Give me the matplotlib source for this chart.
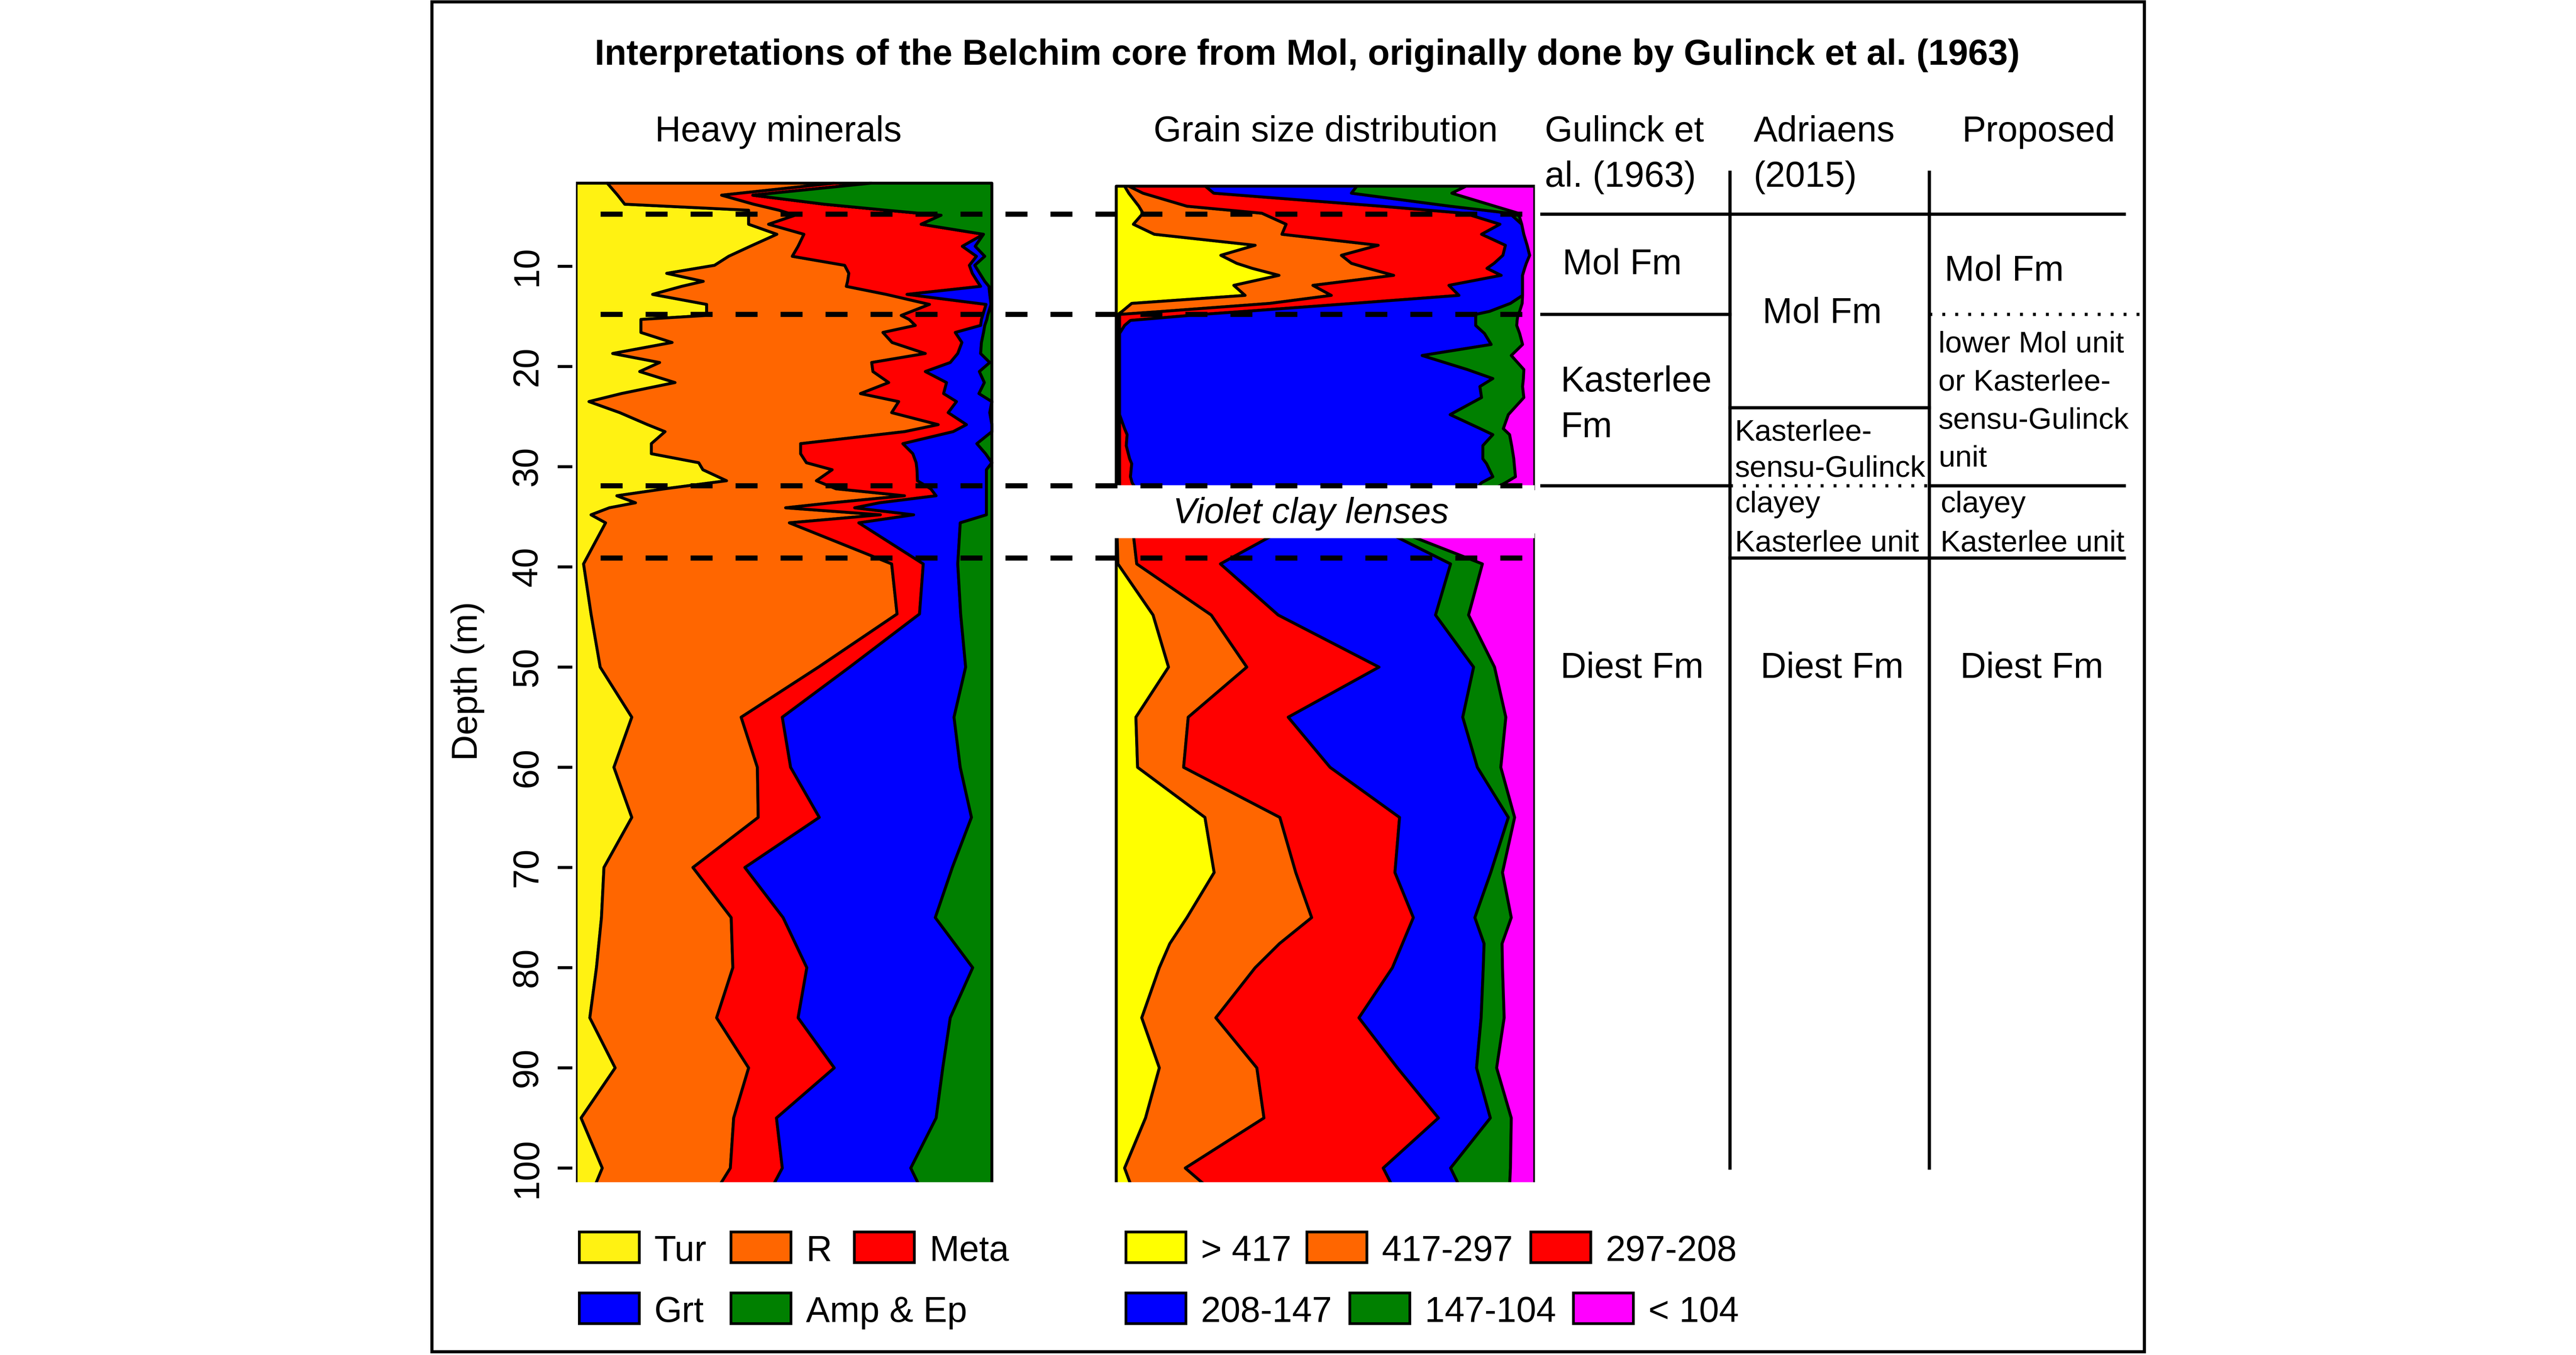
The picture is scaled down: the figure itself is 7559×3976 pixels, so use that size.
import matplotlib
matplotlib.use('Agg')
import matplotlib.pyplot as plt
from matplotlib.patches import Rectangle
import numpy as np

plt.rcParams['font.family'] = ['Liberation Sans', 'DejaVu Sans']

# ---------------- data ----------------
# heavy minerals, cumulative % from the left (Tur, +R, +Meta, +Grt; rest = Amp & Ep)
hm_depth = [1.7, 2.9, 3.8, 4.4, 4.9, 5.8, 6.8, 8.0, 9.0, 9.9, 10.7, 11.5, 12.0, 12.8, 13.8,
            14.9, 15.3, 15.9, 16.6, 17.6, 18.7, 19.6, 20.5, 21.6, 22.7, 23.5, 24.6, 25.8, 26.5,
            27.7, 28.7, 29.6, 30.3, 31.4, 32.2, 32.9, 33.6, 34.1, 34.8, 35.6, 39.7, 44.7, 50,
            55, 60, 65, 70, 75, 80, 85, 90, 95, 100, 101.8]
hm_cum_tur = [7.5, 10, 11.7, 41.5, 41.5, 41.5, 48.3, 41.9, 36.7, 33.3, 21.8, 30.6, 25.4, 18.4,
              31.4, 31.4, 15.6, 15.6, 15.6, 23.1, 8.8, 20.1, 15.3, 23.8, 10.9, 3.1, 10.5, 17.2,
              21.4, 18.1, 18.1, 29.5, 30.5, 36.2, 21.4, 9.8, 14.3, 8, 3.6, 7.1, 1.8, 3.6, 5.8,
              13.4, 9.1, 13.4, 6.7, 6.1, 4.9, 3.3, 9.4, 1.2, 6.3, 4.5]
hm_cum_r = [62, 35, 42.7, 48.8, 52.7, 46.3, 54.8, 53.4, 52.0, 64.6, 65.6, 65.3, 65.0, 74.6,
            85.0, 78.2, 80.1, 81.6, 73.8, 76.0, 84.0, 71.1, 71.4, 75.2, 68.4, 77.6, 75.9, 87.1,
            79, 54, 54, 55.4, 61.6, 57.8, 62.5, 79, 61.6, 50.4, 73.2, 51.3, 75.9, 77.2, 58.3,
            39.7, 43.6, 43.8, 28.1, 37.3, 37.7, 33.8, 41.5, 37.9, 37.1, 34.4]
hm_cum_meta = [71, 42.5, 59.7, 74.7, 87.8, 83, 98, 92.9, 96.3, 94.6, 95.3, 96.5, 97.3, 79.6,
               98.6, 97.8, 97.5, 97.3, 91.2, 92.8, 91.8, 90.0, 84.0, 89.1, 88.4, 91.5, 89.5,
               93.9, 90.7, 78.6, 81, 81.8, 82, 82.1, 85.3, 86.6, 73, 67, 81.2, 68, 83.5, 82.6,
               65.8, 49.6, 51.6, 58.5, 40.6, 49.8, 55.5, 53.4, 62.1, 48.2, 49.6, 47.3]
hm_cum_grt = [71, 42.5, 59.7, 74.7, 87.8, 83, 98, 96, 98.3, 95.9, 97.1, 98.3, 99.3, 99.5,
              99.8, 99.0, 98.8, 98.3, 98, 97.5, 97.3, 99.5, 97.0, 98.2, 96.9, 100, 99.5, 100,
              100, 96.4, 98.5, 100, 98.7, 98.7, 98.7, 98.7, 98.7, 98.7, 98.7, 92.4, 91.8, 92.5,
              93.7, 90.9, 92.4, 95.1, 90.5, 86.4, 95.4, 90.0, 88.2, 86.6, 80.5, 82.6]
hm_labels = ['Tur', 'R', 'Meta', 'Grt', 'Amp & Ep']
hm_colors = ['#FFF212', '#FF6600', '#FF0000', '#0000FF', '#008000']

# grain size, cumulative % from coarse (>417) to fine; rest = <104
gs_up_depth = [2.0, 2.7, 4.0, 4.7, 5.8, 6.8, 7.9, 8.9, 9.7, 10.2, 10.9, 11.9, 12.9, 13.7, 14.5,
               14.8, 15.4, 15.9, 16.7, 17.8, 18.9, 20.3, 21.2, 22.0, 23.1, 24.8, 26.2, 26.8,
               27.9, 29.2, 29.7, 31.0, 31.6, 32.2]
gs_up_417 = [2, 3, 5.4, 6.4, 4.1, 9.1, 33.2, 25.0, 28.8, 32.5, 38.9, 28.1, 30.8, 3.7, 1.4] + [0.4] * 19
gs_up_297 = [3, 6.4, 16.9, 34.8, 40.6, 39.6, 62.6, 53.8, 56.2, 60.2, 66.3, 47.0, 51.4, 36.7, 11] + [0.8] * 19
gs_up_208 = [21.3, 23.3, 63.3, 83.2, 91.7, 87.3, 93.0, 92.4, 90.3, 88.6, 92.0, 79.5, 81.9, 56.6,
             30.6, 20.4, 3.4, 2.0, 0.8, 0.8, 0.8, 0.8, 0.8, 0.8, 0.8, 0.8, 2.0, 2.6, 2.4, 3.2,
             3.7, 3.4, 3.8, 4.7]
gs_up_147 = [57.5, 56.2, 79.8, 94.0, 96.9, 97.4, 98.2, 98.8, 98.0, 97.6, 97.1, 97.1, 97.1, 94.2,
             89.2, 85.9, 85.9, 85.9, 88, 89.6, 73.1, 83.9, 90, 86.9, 87.3, 79.8, 87, 90, 87.6,
             87.6, 88.5, 90, 87.3, 86]
gs_up_104 = [83.6, 80.2, 90.5, 96.1, 96.9, 97.4, 98.2, 98.8, 98.0, 97.6, 97.1, 97.1, 97.1, 97.0,
             96.4, 96.0, 95.8, 95.7, 96.4, 97.1, 94.4, 97.4, 97.3, 97.1, 97.4, 93.7, 92.5, 94.0,
             94.5, 95.0, 95.1, 95.4, 93, 90.3]

gs_lo_depth = [36.8, 39.7, 44.8, 50, 55, 60, 65, 70.5, 75, 77.6, 80, 85, 90, 95, 100, 101.8]
gs_lo_417 = [0.2, 0.4, 8.8, 12.5, 4.7, 5.1, 21.2, 23.4, 16.9, 12.8, 10.3, 6.1, 10.3, 7.0, 2.0, 3.6]
gs_lo_297 = [4.1, 4.9, 22.7, 31.2, 17.2, 16.1, 39.1, 42.9, 46.7, 39, 33.2, 23.8, 33.6, 35.3, 16.5, 21.5]
gs_lo_208 = [37.6, 24.9, 38.7, 62.8, 41.1, 51.1, 67.7, 66.6, 71.0, 68.4, 66.0, 58.0, 67.2, 77.0, 63.8, 66]
gs_lo_147 = [66.0, 79.9, 76.3, 85.4, 82.8, 86.3, 93.7, 89.5, 85.7, 87.9, 87.7, 87.2, 86.1, 89.4, 79.9, 82]
gs_lo_104 = [69.7, 87.5, 84.2, 90.4, 93.1, 91.9, 95.2, 92.3, 94.4, 92.2, 92.3, 92.7, 90.9, 94.4, 94.2, 94.0]
gs_labels = ['> 417', '417-297', '297-208', '208-147', '147-104', '< 104']
gs_colors = ['#FFFF00', '#FF6600', '#FF0000', '#0000FF', '#008000', '#FF00FF']

# formation boundaries (m)
marker_depths = [4.8, 14.8, 31.9, 39.1]
gulinck_lines = [4.8, 14.8, 31.9]
adriaens_lines = [4.8, 24.1, 39.1]
adriaens_dotted = [31.9]
proposed_lines = [4.8, 31.9, 39.1]
proposed_dotted = [14.8]
clay_gap = (32.0, 37.0)

# ---------------- layout ----------------
W, H, DPI = 7559, 3976, 600
Y0, PPM = 487, 29.4          # pixel row of depth 0, pixels per metre
D_TOP, D_BOT = 1.45, 101.4
FS, FS_S = 12.6, 10.6
LW_POLY = 1.02

fig = plt.figure(figsize=(W / DPI, H / DPI), dpi=DPI)


def panel(x0, x1):
    top = Y0 + PPM * D_TOP
    bot = Y0 + PPM * D_BOT
    return [x0 / W, 1 - bot / H, (x1 - x0) / W, (bot - top) / H]


def stack_fill(ax, depth, cums, colors):
    n = len(depth)
    edges = [np.zeros(n)] + [np.asarray(c) for c in cums] + [np.full(n, 100.0)]
    for lo, hi, col in zip(edges[:-1], edges[1:], colors):
        ax.fill_betweenx(depth, lo, hi, facecolor=col, edgecolor='black',
                         linewidth=LW_POLY)


# heavy minerals
ax_hm = fig.add_axes(panel(1690, 1690 + 12.2 * 100.3))
ax_hm.set_xlim(0, 100.3)
ax_hm.set_ylim(D_BOT, D_TOP)
stack_fill(ax_hm, hm_depth, [hm_cum_tur, hm_cum_r, hm_cum_meta, hm_cum_grt], hm_colors)
for s in ax_hm.spines.values():
    s.set_visible(False)
ax_hm.spines['left'].set_position(('outward', 1.3))
ax_hm.set_xticks([])
ax_hm.set_yticks(range(10, 101, 10))
ax_hm.tick_params(axis='y', direction='out', length=5.2, width=1.05, pad=4.6,
                  labelsize=FS, labelrotation=90)
for lab in ax_hm.get_yticklabels():
    lab.set_va('center')

# grain size
ax_gs = fig.add_axes(panel(3275 - 0.35 * 12.28, 4503))
ax_gs.set_xlim(-0.35, 100)
ax_gs.set_ylim(D_BOT, D_TOP)
stack_fill(ax_gs, gs_up_depth, [gs_up_417, gs_up_297, gs_up_208, gs_up_147, gs_up_104], gs_colors)
stack_fill(ax_gs, gs_lo_depth, [gs_lo_417, gs_lo_297, gs_lo_208, gs_lo_147, gs_lo_104], gs_colors)
ax_gs.axhspan(clay_gap[0], clay_gap[1], color='white', zorder=5)
for s in ax_gs.spines.values():
    s.set_visible(False)
ax_gs.set_xticks([])
ax_gs.set_yticks([])

# overlay in depth units (x in pixels) for markers and the table
tb = fig.add_axes([0, 0, 1, 1], facecolor='none')
tb.set_xlim(0, W)
tb.set_ylim((H - Y0) / PPM, -Y0 / PPM)
tb.axis('off')

for d in marker_depths:
    tb.plot([1762, 4495], [d, d], color='black', lw=1.8, ls=(0, (4.3, 4.5)),
            solid_capstyle='butt', dash_capstyle='butt')

COLS = [4524, 5076, 5661, 6233]
LW_T = 1.14
for d in gulinck_lines:
    tb.plot([COLS[0], COLS[1]], [d, d], color='black', lw=LW_T)
for d in adriaens_lines:
    tb.plot([COLS[1], COLS[2]], [d, d], color='black', lw=LW_T)
for d in adriaens_dotted:
    tb.plot([COLS[1], COLS[2]], [d, d], color='black', lw=LW_T, ls=(0, (0.9, 3.1)))
for d in proposed_lines:
    tb.plot([COLS[2], COLS[3]], [d, d], color='black', lw=LW_T)
for d in proposed_dotted:
    tb.plot([COLS[2], 6285], [d, d], color='black', lw=LW_T, ls=(0, (0.9, 3.1)))
for x in COLS[1:3]:
    tb.plot([x, x], [0.6, 100], color='black', lw=LW_T)


def block(x, d0, text, size, step, ha='left', **kw):
    for i, line in enumerate(text.split('\n')):
        tb.text(x, d0 + i * step, line, fontsize=size, ha=ha, va='baseline', **kw)


block(4585, 10.82, 'Mol Fm', FS, 0)
block(4579, 22.52, 'Kasterlee\nFm', FS, 4.55)
block(4789, 51.09, 'Diest Fm', FS, 0, ha='center')
block(5172, 15.68, 'Mol Fm', FS, 0)
block(5091, 27.41, 'Kasterlee-\nsensu-Gulinck', FS_S, 3.6)
block(5091, 34.56, 'clayey\nKasterlee unit', FS_S, 3.9)
block(5376, 51.09, 'Diest Fm', FS, 0, ha='center')
block(5706, 11.46, 'Mol Fm', FS, 0)
block(5688, 18.61, 'lower Mol unit\nor Kasterlee-\nsensu-Gulinck\nunit', FS_S, 3.8)
block(5694, 34.56, 'clayey\nKasterlee unit', FS_S, 3.9)
block(5962, 51.09, 'Diest Fm', FS, 0, ha='center')
block(3847, 35.65, 'Violet clay lenses', FS, 0, ha='center', style='italic')

# overlay in pixels for title, headers, legend and frame
ov = fig.add_axes([0, 0, 1, 1], facecolor='none')
ov.set_xlim(0, W)
ov.set_ylim(H, 0)
ov.axis('off')

ov.add_patch(Rectangle((1267, 5), 6292 - 1267, 3966 - 5, fill=False, lw=1.1,
                       edgecolor='black', clip_on=False))
ov.text(3836, 190, 'Interpretations of the Belchim core from Mol, originally done by Gulinck et al. (1963)',
        fontsize=FS, fontweight='bold', ha='center', va='baseline')
ov.text(2284, 415, 'Heavy minerals', fontsize=FS, ha='center', va='baseline')
ov.text(3890, 415, 'Grain size distribution', fontsize=FS, ha='center', va='baseline')
ov.text(4533, 415, 'Gulinck et', fontsize=FS, ha='left', va='baseline')
ov.text(4533, 548, 'al. (1963)', fontsize=FS, ha='left', va='baseline')
ov.text(5146, 415, 'Adriaens', fontsize=FS, ha='left', va='baseline')
ov.text(5146, 548, '(2015)', fontsize=FS, ha='left', va='baseline')
ov.text(5757, 415, 'Proposed', fontsize=FS, ha='left', va='baseline')
ov.text(1373, Y0 + PPM * (D_TOP + D_BOT) / 2, 'Depth (m)', fontsize=FS, rotation=90,
        ha='center', va='center')

# legends
ROWS = [3660, 3839]
BW, BH = 176, 90


def legend_item(x, y, col, label):
    ov.add_patch(Rectangle((x, y - BH / 2), BW, BH, facecolor=col, edgecolor='black', lw=0.96))
    ov.text(x + BW + 44, y + 40, label, fontsize=FS, ha='left', va='baseline')


hm_pos = [(1700, 0), (2145, 0), (2507, 0), (1700, 1), (2145, 1)]
for (x, r), col, lab in zip(hm_pos, hm_colors, hm_labels):
    legend_item(x, ROWS[r], col, lab)
gs_pos = [(3304, 0), (3835, 0), (4492, 0), (3304, 1), (3961, 1), (4617, 1)]
for (x, r), col, lab in zip(gs_pos, gs_colors, gs_labels):
    legend_item(x, ROWS[r], col, lab)

fig.savefig('out.png', dpi=DPI, facecolor='white')
